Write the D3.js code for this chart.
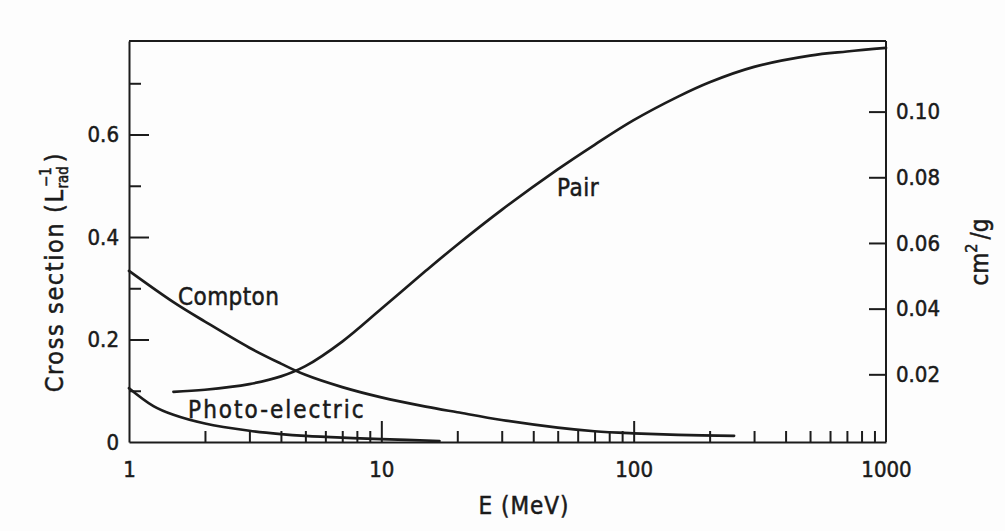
<!DOCTYPE html>
<html>
<head>
<meta charset="utf-8">
<script src="https://cdn.jsdelivr.net/npm/d3@7"></script>
<style>
  html, body { margin: 0; padding: 0; background: #fdfdfd; }
  svg { display: block; }
  text { font-family: "DejaVu Sans Condensed", "DejaVu Sans", sans-serif; fill: #1a1a1a; stroke: #1a1a1a; stroke-width: 0.5px; }
</style>
</head>
<body>
<svg id="chart" width="1005" height="531"></svg>
<script>
// Photon interaction cross sections vs energy (E in MeV, values in units of 1/L_rad)
const pairE      = [1.5, 2, 3, 4, 5, 7, 10, 15, 20, 30, 50, 70, 100, 150, 200, 300, 500, 700, 1000];
const pairV      = [0.098, 0.102, 0.113, 0.128, 0.148, 0.196, 0.260, 0.334, 0.385, 0.453, 0.532, 0.580, 0.628, 0.674, 0.702, 0.732, 0.754, 0.762, 0.769];

const comptonE   = [1, 1.5, 2, 3, 4, 5, 7, 10, 15, 20, 30, 50, 70, 100, 150, 250];
const comptonV   = [0.334, 0.273, 0.235, 0.184, 0.153, 0.131, 0.107, 0.087, 0.069, 0.058, 0.043, 0.028, 0.021, 0.017, 0.014, 0.012];

const photoE     = [1, 1.25, 1.5, 2, 3, 4, 5, 7, 10, 17];
const photoV     = [0.105, 0.070, 0.053, 0.036, 0.022, 0.0155, 0.012, 0.0085, 0.0057, 0.002];

// Axis ticks
const energyTicks   = [1, 10, 100, 1000];
const energyMinor   = [2,3,4,5,6,7,8,9, 20,30,40,50,60,70,80,90, 200,300,400,500,600,700,800,900];
const leftTicks     = [0, 0.2, 0.4, 0.6];
const leftMinor     = [0.1, 0.3, 0.5, 0.7];
const rightTicks    = [0.02, 0.04, 0.06, 0.08, 0.10];

// Curve labels, placed at (E, value) positions next to their curves
const curveLabels   = ["Compton", "Photo-electric", "Pair"];
const labelAnchors  = [[1.565, 0.267], [1.715, 0.047], [49.7, 0.480]];

const svg = d3.select("#chart");
const plotL = 129, plotR = 886, plotT = 41, plotB = 442;

const x  = d3.scaleLog().domain([1, 1000]).range([plotL, plotR]);
const y  = d3.scaleLinear().domain([0, 0.7825]).range([plotB, plotT]);
const yR = d3.scaleLinear().domain([0, 0.1215]).range([440, plotT]);

const ink = "#1c1c1c";
const tickFont = "22px";

function styleAxis(g) {
  g.selectAll("path.domain").attr("stroke", ink).attr("stroke-width", 2);
  g.selectAll(".tick line").attr("stroke", ink).attr("stroke-width", 2);
  g.selectAll(".tick text").style("font-size", tickFont).attr("fill", "#1a1a1a");
}

// top frame line
svg.append("line")
  .attr("x1", plotL).attr("x2", plotR).attr("y1", plotT).attr("y2", plotT)
  .attr("stroke", ink).attr("stroke-width", 2);

// left axis (ticks point inward)
const gL = svg.append("g").attr("transform", `translate(${plotL},0)`)
  .call(d3.axisLeft(y).tickValues(leftTicks).tickSizeInner(-20).tickSizeOuter(0).tickPadding(10)
    .tickFormat(d => d === 0 ? "0" : d3.format(".1f")(d)));
styleAxis(gL);
gL.selectAll(".tick").filter(d => d === 0).select("line").remove();
const gLm = svg.append("g").attr("transform", `translate(${plotL},0)`)
  .call(d3.axisLeft(y).tickValues(leftMinor).tickSizeInner(-12).tickSizeOuter(0).tickFormat(""));
styleAxis(gLm);
gLm.select("path.domain").remove();

// right axis in cm^2/g
const gR = svg.append("g").attr("transform", `translate(${plotR},0)`)
  .call(d3.axisRight(yR).tickValues(rightTicks).tickSizeInner(-17).tickSizeOuter(0).tickPadding(10)
    .tickFormat(d3.format(".2f")));
styleAxis(gR);
gR.select("path.domain").attr("d", `M0,${plotT}V${plotB}`);

// bottom axis (log energy)
const gB = svg.append("g").attr("transform", `translate(0,${plotB})`)
  .call(d3.axisBottom(x).tickValues(energyTicks).tickSizeInner(-21).tickSizeOuter(0).tickPadding(19)
    .tickFormat(d3.format("d")));
styleAxis(gB);
gB.selectAll(".tick").filter(d => d === 1 || d === 1000).select("line").remove();
const gBm = svg.append("g").attr("transform", `translate(0,${plotB})`)
  .call(d3.axisBottom(x).tickValues(energyMinor).tickSizeInner(-11).tickSizeOuter(0).tickFormat(""));
styleAxis(gBm);
gBm.select("path.domain").remove();

// curves
const line = d3.line().x(d => x(d[0])).y(d => y(d[1])).curve(d3.curveCatmullRom.alpha(0.5));
const series = [
  d3.zip(pairE, pairV),
  d3.zip(comptonE, comptonV),
  d3.zip(photoE, photoV)
];
svg.append("g").selectAll("path").data(series).join("path")
  .attr("d", line)
  .attr("fill", "none")
  .attr("stroke", ink)
  .attr("stroke-width", 2.7)
  .attr("stroke-linejoin", "round")
  .attr("stroke-linecap", "round");

// curve labels
const labelSpacing = [0.4, 2, 0.5];
svg.append("g").selectAll("text").data(curveLabels).join("text")
  .attr("x", (d, i) => x(labelAnchors[i][0]))
  .attr("y", (d, i) => y(labelAnchors[i][1]))
  .style("font-size", "24px")
  .style("letter-spacing", (d, i) => labelSpacing[i] + "px")
  .text(d => d);

// x title
svg.append("text")
  .attr("x", 524).attr("y", 514)
  .attr("text-anchor", "middle")
  .style("font-size", "24px")
  .style("letter-spacing", "1px")
  .text("E  (MeV)");

// left title
const lt = svg.append("text")
  .attr("transform", "translate(63,272) rotate(-90)")
  .attr("text-anchor", "middle")
  .style("font-size", "25px")
  .style("letter-spacing", "1.6px");
lt.append("tspan").text("Cross section (L");
lt.append("tspan").attr("dy", 5).style("font-size", "15px").style("letter-spacing", "0px").text("rad");
lt.append("tspan").attr("dx", -21).attr("dy", -17).style("font-size", "15px").style("letter-spacing", "0px").text("−1");
lt.append("tspan").attr("dy", 12).attr("dx", 5).text(")");

// right title
const rt = svg.append("text")
  .attr("transform", "translate(988,252) rotate(-90)")
  .attr("text-anchor", "middle")
  .style("font-size", "24px");
rt.append("tspan").text("cm");
rt.append("tspan").attr("dy", -11).style("font-size", "16px").text("2");
rt.append("tspan").attr("dy", 11).attr("dx", 4).text("/g");
</script>
</body>
</html>
